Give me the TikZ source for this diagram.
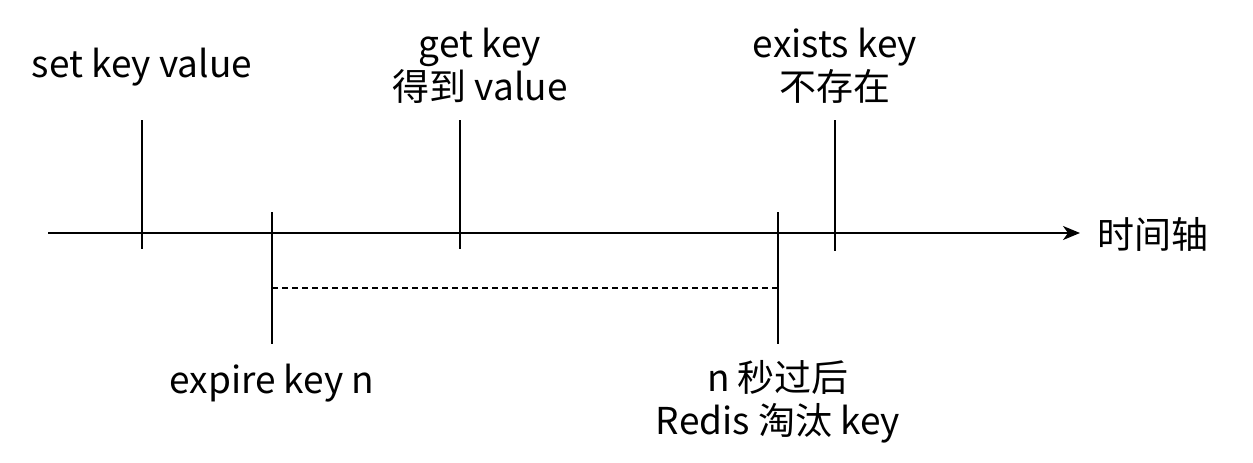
\documentclass[tikz,border=0pt]{standalone}
\usepackage{fontspec}
\setmainfont{Noto Sans CJK SC}
\usetikzlibrary{arrows.meta}
\begin{document}
\begin{tikzpicture}[x=1pt,y=-1pt,
  tick/.style={line width=2pt},
  lbl/.style={font=\fontsize{37}{43}\selectfont, align=center, inner sep=0pt},
  axis/.style={line width=2pt,-{Stealth[length=17pt,width=14pt,inset=5pt]}}]
\useasboundingbox (0,0) rectangle (1253,463);
% axis
\coordinate (a0) at (48,233);
\node[lbl, anchor=west] (ax) at (1097,234) {时间轴};
\coordinate (a1) at (1080,233);
\draw[axis] (a0) -- (a1);
% ticks
\coordinate (t1a) at (142,120); \coordinate (t1b) at (142,249);
\coordinate (t2a) at (272,212); \coordinate (t2b) at (272,344);
\coordinate (t3a) at (460,120); \coordinate (t3b) at (460,249);
\coordinate (t4a) at (778,212); \coordinate (t4b) at (778,344);
\coordinate (t5a) at (835,120); \coordinate (t5b) at (835,251);
\draw[tick] (t1a) -- (t1b);
\draw[tick] (t2a) -- (t2b);
\draw[tick] (t3a) -- (t3b);
\draw[tick] (t4a) -- (t4b);
\draw[tick] (t5a) -- (t5b);
\coordinate (d0) at (272,288); \coordinate (d1) at (778,288);
\draw[line width=1.5pt, dash pattern=on 6pt off 4pt] (d0) -- (d1);
% labels
\node[lbl] (l1) at (142,67) {set key value};
\node[lbl] (l2) at (480,66) {get key\\得到 value};
\node[lbl] (l3) at (835,66) {exists key\\不存在};
\node[lbl] (l4) at (272,383) {expire key n};
\node[lbl] (l5) at (778,402) {n 秒过后\\Redis 淘汰 key};
\end{tikzpicture}
\end{document}
